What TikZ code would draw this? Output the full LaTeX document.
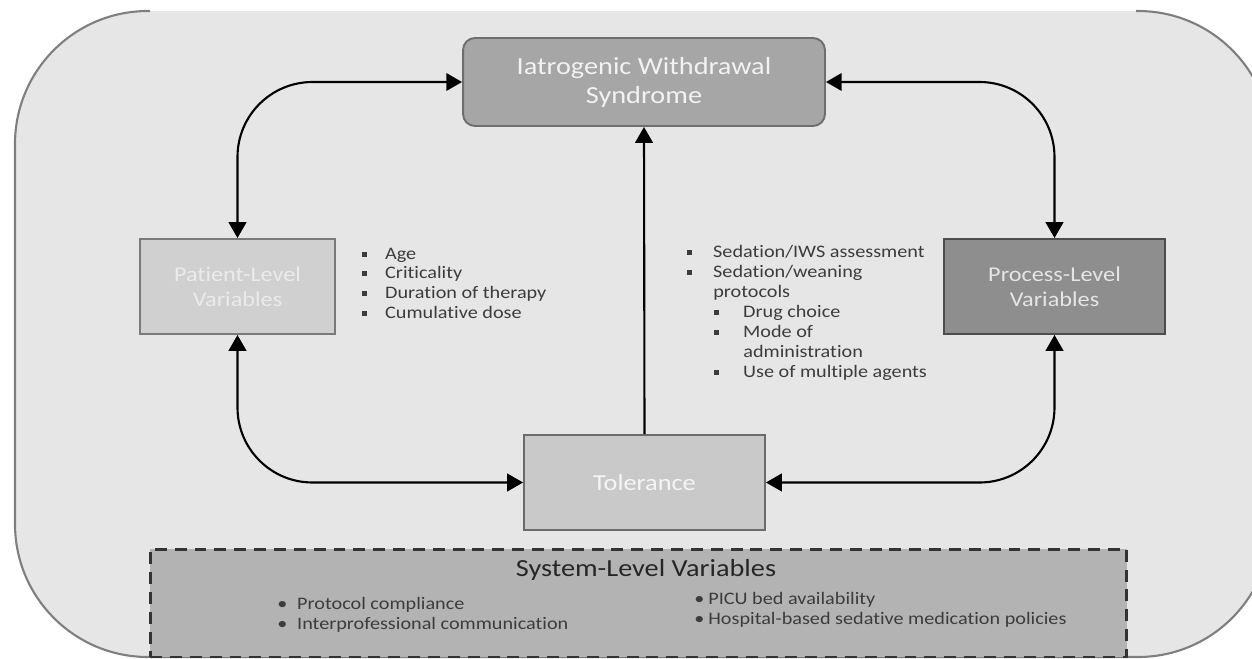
\documentclass[tikz,border=0pt]{standalone}
\usepackage{fontspec}
\setmainfont{Carlito}[FakeStretch=1.15, Ligatures=NoCommon]
\usetikzlibrary{arrows.meta}
\definecolor{outerfill}{HTML}{E6E6E6}
\definecolor{outerline}{HTML}{7F7F7F}
\definecolor{iwsfill}{HTML}{A6A6A6}
\definecolor{iwsline}{HTML}{6E6E6E}
\definecolor{patfill}{HTML}{D0D0D0}
\definecolor{patline}{HTML}{7A7A7A}
\definecolor{procfill}{HTML}{8E8E8E}
\definecolor{procline}{HTML}{4D4D4D}
\definecolor{tolfill}{HTML}{C9C9C9}
\definecolor{tolline}{HTML}{6B6B6B}
\definecolor{sysfill}{HTML}{B3B3B3}
\definecolor{sysline}{HTML}{333333}
\definecolor{txtgray}{HTML}{3C3C3C}
\definecolor{titlegray}{HTML}{262626}
\newcommand\sqb{\raisebox{0.22ex}{\rule{2.8pt}{2.8pt}}}
\newcommand\bx[2]{\makebox[#1][l]{#2}}
\tikzset{
  box/.style={draw, line width=1.1pt, inner sep=2pt, align=center},
  lst/.style={inner sep=0pt, anchor=base west, text=txtgray, font=\fontsize{10}{11}\selectfont},
  conn/.style={line width=1.2pt, black, rounded corners=1.5cm},
  tip/.tip={Triangle[length=9pt,width=10pt]},
}
\begin{document}
\begin{tikzpicture}[x=0.02cm,y=-0.02cm]
\useasboundingbox (0,0) rectangle (1252,659);
% outer frame
\fill[outerfill, rounded corners=2.66cm] (15,11) rectangle (1271,657);
\draw[outerline, line width=1.2pt, rounded corners=2.66cm] (150,11) -- (15,11) -- (15,657) -- (1271,657) -- (1271,11) -- (1136,11);

% system box
\node[draw=sysline, fill=sysfill, line width=1.7pt, dash pattern=on 6.8pt off 4.5pt,
      minimum width=19.54cm, minimum height=2.16cm, inner sep=0pt] (sys) at (638.5,603) {};
\node[anchor=base, inner sep=0pt, text=titlegray, font=\fontsize{14}{16}\selectfont] (systitle) at (646,576) {System-Level Variables};

% main boxes
\node[box, draw=iwsline, fill=iwsfill, rounded corners=0.24cm, minimum width=7.24cm, minimum height=1.76cm,
      text=white!95!black, font=\fontsize{14}{16.5}\selectfont] (iws) at (644,82) {Iatrogenic Withdrawal\\Syndrome};
\node[box, draw=patline, fill=patfill, minimum width=3.9cm, minimum height=1.9cm,
      text=white!92!black, font=\fontsize{12}{14.5}\selectfont] (pat) at (237.5,286.5) {Patient-Level\\Variables};
\node[box, draw=procline, fill=procfill, minimum width=4.42cm, minimum height=1.9cm,
      text=white!90!black, font=\fontsize{12}{14.5}\selectfont] (proc) at (1054.5,286.5) {Process-Level\\Variables};
\node[box, draw=tolline, fill=tolfill, minimum width=4.82cm, minimum height=1.9cm,
      text=white!96!black, font=\fontsize{13}{15}\selectfont] (tol) at (644.5,482.5) {Tolerance};

% connectors
\draw[conn, {tip}-{tip}] (pat.north) |- (iws.west);
\draw[conn, {tip}-{tip}] (iws.east) -| (proc.north);
\draw[conn, -{tip}] (tol.north) -- (iws.south);
\draw[conn, {tip}-{tip}] (pat.south) |- (tol.west);
\draw[conn, {tip}-{tip}] (proc.south) |- (tol.east);

% patient list
\node[lst] (pa1) at (362,259) {\bx{13pt}{\sqb}Age};
\node[lst] (pa2) at (362,278) {\bx{13pt}{\sqb}Criticality};
\node[lst] (pa3) at (362,298) {\bx{13pt}{\sqb}Duration of therapy};
\node[lst] (pa4) at (362,318) {\bx{13pt}{\sqb}Cumulative dose};

% process list
\node[lst] (pr1) at (687,257) {\bx{14.7pt}{\sqb}Sedation/IWS assessment};
\node[lst] (pr2) at (687,277) {\bx{14.7pt}{\sqb}Sedation/weaning};
\node[lst] (pr3) at (713,297) {protocols};
\node[lst] (pr4) at (714,317) {\bx{16.4pt}{\sqb}Drug choice};
\node[lst] (pr5) at (714,337) {\bx{16.4pt}{\sqb}Mode of};
\node[lst] (pr6) at (743,357) {administration};
\node[lst] (pr7) at (714,377) {\bx{16.4pt}{\sqb}Use of multiple agents};

% system list
\node[lst] (sy1) at (277,609) {\bx{11.3pt}{\textbullet}Protocol compliance};
\node[lst] (sy2) at (277,629) {\bx{11.3pt}{\textbullet}Interprofessional communication};
\node[lst] (sy3) at (694,604) {\bx{8pt}{\textbullet}PICU bed availability};
\node[lst] (sy4) at (694,624) {\bx{8pt}{\textbullet}Hospital-based sedative medication policies};
\end{tikzpicture}
\end{document}
